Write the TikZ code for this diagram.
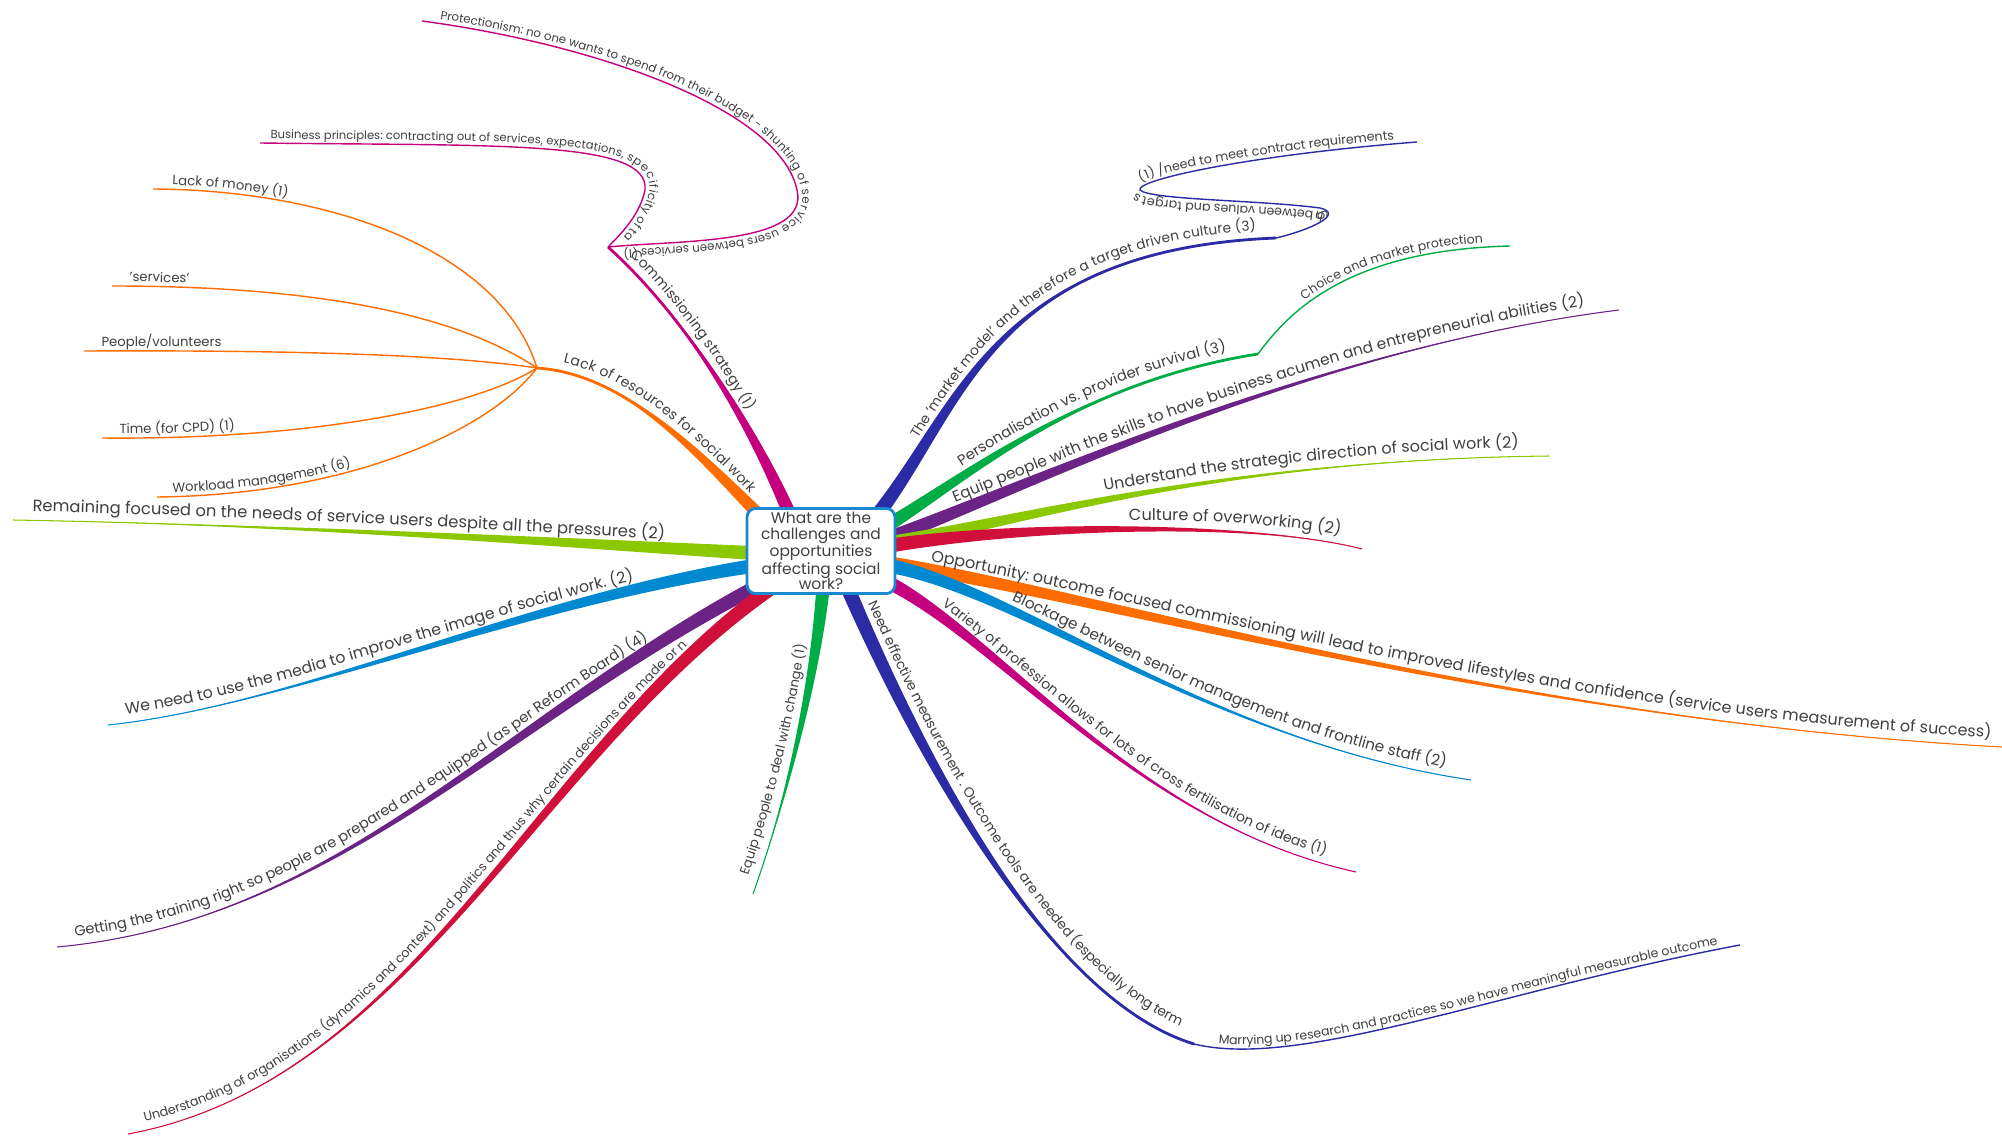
\documentclass[tikz,border=0pt]{standalone}
\usepackage{fontspec}
\setmainfont{Poppins}
\usetikzlibrary{calc,decorations.text,backgrounds}

\definecolor{ink}{RGB}{64,64,64}
\definecolor{hubblue}{RGB}{24,136,208}
\definecolor{cmag}{RGB}{196,0,127}
\definecolor{corange}{RGB}{255,108,0}
\definecolor{cyellow}{RGB}{140,200,0}
\definecolor{cblue}{RGB}{0,136,209}
\definecolor{cpurple}{RGB}{108,35,134}
\definecolor{ccrimson}{RGB}{208,16,58}
\definecolor{cgreen}{RGB}{0,172,70}
\definecolor{cnavy}{RGB}{43,43,165}

\newcommand\lwa{4.2pt}
\newcommand\lwb{3pt}
% tapered main branch: end width, colour, start, control 1, control 2, end
\newcommand\limb[6][.6pt]{%
  \fill[#2] ($(#3)!\lwa!90:(#4)$) .. controls ($(#4)!\lwb!-90:(#3)$) and (#5) .. (#6)
    .. controls (#5) and ($(#4)!\lwb!90:(#3)$) .. ($(#3)!\lwa!-90:(#4)$) -- cycle;
  \draw[#2,line width=#1] (#3) .. controls (#4) and (#5) .. (#6);}

\begin{document}
\begin{tikzpicture}[x=0.02cm,y=-0.02cm,
  twig/.style={line width=.8pt},
  say/.style n args={3}{decorate,decoration={text along path,raise=5pt,text color=ink,
    text align={left indent=#1},text={|\fontsize{#2}{#2}\selectfont|#3}}},
  whisper/.style n args={3}{decorate,decoration={text along path,raise=2.5pt,text color=ink,
    text align={left indent=#1},text={|\fontsize{#2}{#2}\selectfont|#3}}},
  lift/.style={decoration={raise=#1}},
  hub/.style={draw=hubblue,line width=1.6pt,fill=white,rounded corners=5pt,
    minimum width=2.96cm,minimum height=1.6cm,inner sep=2pt,align=center,text=ink,
    font=\fontsize{8.8pt}{8.9pt}\selectfont}]
\useasboundingbox (0,0) rectangle (2002,1138);

\node (root) [hub] at (821,551) {What are the\\challenges and\\opportunities\\affecting social\\work?};

% where the branches leave the hub
\coordinate (in-commission) at (800,540);
\coordinate (in-lack) at (790,545);
\coordinate (in-remain) at (790,555);
\coordinate (in-media) at (800,560);
\coordinate (in-train) at (790,570);
\coordinate (in-organise) at (790,575);
\coordinate (in-change) at (825,560);
\coordinate (in-market) at (865,530);
\coordinate (in-person) at (870,535);
\coordinate (in-skills) at (870,545);
\coordinate (in-strategy) at (870,546);
\coordinate (in-overwork) at (870,549);
\coordinate (in-outcome) at (870,561);
\coordinate (in-blockage) at (870,563);
\coordinate (in-variety) at (860,570);
\coordinate (in-measure) at (840,570);

% junctions and free ends
\coordinate (commission) at (608,247);
\coordinate (business) at (260,143);
\coordinate (protect) at (422,21);
\coordinate (lack) at (537,368);
\coordinate (money) at (153,189);
\coordinate (services) at (112,286);
\coordinate (people) at (84,351);
\coordinate (time) at (102,438);
\coordinate (workload) at (157,497);
\coordinate (remain) at (13,520);
\coordinate (media) at (108,725);
\coordinate (train) at (57,947);
\coordinate (organise) at (128,1134);
\coordinate (change) at (753,894);
\coordinate (market) at (1276,238);
\coordinate (values) at (1417,142);
\coordinate (person) at (1258,354);
\coordinate (choice) at (1510,246);
\coordinate (skills) at (1619,310);
\coordinate (strategy) at (1549,456);
\coordinate (overwork) at (1362,549);
\coordinate (outcome) at (2002,747);
\coordinate (blockage) at (1471,780);
\coordinate (variety) at (1356,872);
\coordinate (measure) at (1194,1044);
\coordinate (marry) at (1740,945);

\begin{scope}[on background layer]
\fill[white] (0,0) rectangle (2002,1138);
% left side
\limb[1.6pt]{cmag}{in-commission}{770,460}{700,330}{commission}
\draw[cmag,twig] (business) .. controls (500,146) and (650,140) .. (645,190)
  .. controls (640,215) and (620,235) .. (commission);
\draw[cmag,twig] (protect) .. controls (600,45) and (780,110) .. (797,190)
  .. controls (810,245) and (680,240) .. (commission);
\limb[1.6pt]{corange}{in-lack}{720,480}{640,375}{lack}
\draw[corange,twig] (money) .. controls (330,190) and (500,250) .. (lack);
\draw[corange,twig] (services) .. controls (300,286) and (450,310) .. (lack);
\draw[corange,twig] (people) .. controls (300,350) and (450,355) .. (lack);
\draw[corange,twig] (time) .. controls (300,440) and (470,410) .. (lack);
\draw[corange,twig] (workload) .. controls (350,495) and (490,430) .. (lack);
\limb{cyellow}{in-remain}{600,545}{300,525}{remain}
\limb{cblue}{in-media}{560,585}{300,705}{media}
\limb{cpurple}{in-train}{520,700}{350,920}{train}
\limb{ccrimson}{in-organise}{540,740}{420,1080}{organise}
\limb{cgreen}{in-change}{820,660}{790,790}{change}
% right side
\limb[1.6pt]{cnavy}{in-market}{960,420}{980,250}{market}
\draw[cnavy,twig] (market) .. controls (1310,230) and (1345,214) .. (1320,208)
  .. controls (1260,200) and (1150,200) .. (1140,190)
  .. controls (1135,180) and (1250,155) .. (values);
\limb[1.6pt]{cgreen}{in-person}{940,500}{1060,385}{person}
\draw[cgreen,twig] (person) .. controls (1290,310) and (1350,250) .. (choice);
\limb{cpurple}{in-skills}{1000,500}{1300,350}{skills}
\limb{cyellow}{in-strategy}{1000,528}{1200,460}{strategy}
\limb{ccrimson}{in-overwork}{1000,525}{1250,520}{overwork}
\limb{corange}{in-outcome}{1050,582}{1500,720}{outcome}
\limb{cblue}{in-blockage}{1000,575}{1200,740}{blockage}
\limb{cmag}{in-variety}{980,610}{1120,820}{variety}
\limb[1.6pt]{cnavy}{in-measure}{920,760}{1050,1000}{measure}
\draw[cnavy,twig] (measure) .. controls (1300,1070) and (1500,990) .. (marry);
\end{scope}

% labels along the branches
\path[say={12pt}{8pt}{Commissioning strategy (1)}] (commission) .. controls (700,330) and (770,460) .. (in-commission);
\path[whisper={6pt}{6.6pt}{Business principles: contracting out of services, expectations, specificity of ta}]
  (business) .. controls (500,146) and (650,140) .. (645,190) .. controls (640,215) and (620,235) .. (commission);
\path[whisper={10pt}{6.7pt}{Protectionism: no one wants to spend from their budget - shunting of service users between services (1)}]
  (protect) .. controls (600,45) and (780,110) .. (797,190) .. controls (810,245) and (680,240) .. (commission);
\path[say={14pt}{8pt}{Lack of resources for social work}] (lack) .. controls (640,375) and (720,480) .. (in-lack);
\path[whisper={11pt}{7.5pt}{Lack of money (1)}] (money) .. controls (330,190) and (500,250) .. (lack);
\path[whisper={10pt}{7.5pt}{'services'}] (services) .. controls (300,286) and (450,310) .. (lack);
\path[whisper={10pt}{7.5pt}{People/volunteers}] (people) .. controls (300,350) and (450,355) .. (lack);
\path[whisper={10pt}{7.5pt}{Time (for CPD) (1)}] (time) .. controls (300,440) and (470,410) .. (lack);
\path[whisper={9pt}{7.5pt}{Workload management (6)}] (workload) .. controls (350,495) and (490,430) .. (lack);
\path[say={11pt}{9.3pt}{Remaining focused on the needs of service users despite all the pressures (2)}] (remain) .. controls (300,525) and (600,545) .. (in-remain);
\path[say={11pt}{9pt}{We need to use the media to improve the image of social work. (2)}] (media) .. controls (300,705) and (560,585) .. (in-media);
\path[say={11pt}{8.3pt}{Getting the training right so people are prepared and equipped (as per Reform Board) (4)}] (train) .. controls (350,920) and (520,700) .. (in-train);
\path[say={11pt}{7.3pt}{Understanding of organisations (dynamics and context) and politics and thus why certain decisions are made or n}] (organise) .. controls (420,1080) and (540,740) .. (in-organise);
\path[say={9pt}{7.5pt}{Equip people to deal with change (1)},lift=6pt] (change) .. controls (790,790) and (820,660) .. (in-change);
\path[say={60pt}{7.8pt}{The 'market model' and therefore a target driven culture (3)}] (in-market) .. controls (960,420) and (980,250) .. (market);
\path[whisper={32pt}{7.2pt}{gh between values and targets (1) /need to meet contract requirements}]
  (market) .. controls (1310,230) and (1345,214) .. (1320,208) .. controls (1260,200) and (1150,200) .. (1140,190)
  .. controls (1135,180) and (1250,155) .. (values);
\path[say={65pt}{8.4pt}{Personalisation vs. provider survival (3)}] (in-person) .. controls (940,500) and (1060,385) .. (person);
\path[whisper={40pt}{7.1pt}{Choice and market protection}] (person) .. controls (1290,310) and (1350,250) .. (choice);
\path[say={54pt}{8.8pt}{Equip people with the skills to have business acumen and entrepreneurial abilities (2)}] (in-skills) .. controls (1000,500) and (1300,350) .. (skills);
\path[say={137pt}{9.1pt}{Understand the strategic direction of social work (2)}] (in-strategy) .. controls (1000,528) and (1200,460) .. (strategy);
\path[say={148pt}{9.2pt}{Culture of overworking (2)}] (in-overwork) .. controls (1000,525) and (1250,520) .. (overwork);
\path[say={34pt}{9.1pt}{Opportunity: outcome focused commissioning will lead to improved lifestyles and confidence (service users measurement of success)}] (in-outcome) .. controls (1050,582) and (1500,720) .. (outcome);
\path[say={83pt}{8.7pt}{Blockage between senior management and frontline staff (2)}] (in-blockage) .. controls (1000,575) and (1200,740) .. (blockage);
\path[say={50pt}{8pt}{Variety of profession allows for lots of cross fertilisation of ideas (1)}] (in-variety) .. controls (980,610) and (1120,820) .. (variety);
\path[say={24pt}{7.8pt}{Need effective measurement . Outcome tools are needed (especially long term},lift=7pt] (in-measure) .. controls (920,760) and (1050,1000) .. (measure);
\path[whisper={14pt}{7.1pt}{Marrying up research and practices so we have meaningful measurable outcome}] (measure) .. controls (1300,1070) and (1500,990) .. (marry);
\end{tikzpicture}
\end{document}
